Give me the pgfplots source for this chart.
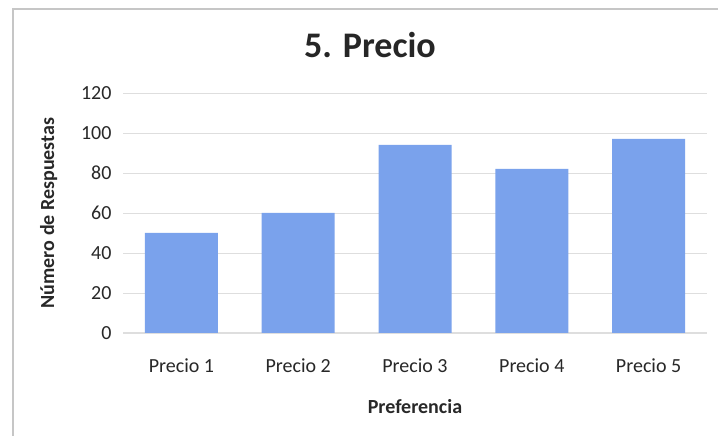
\documentclass[border=0pt]{standalone}
\usepackage{pgfplots}
\pgfplotsset{compat=1.18}
\usepackage{fontspec}
\setmainfont{Carlito}
\definecolor{barblue}{RGB}{122,162,236}
\definecolor{gridgray}{RGB}{222,222,222}
\definecolor{txt}{RGB}{40,40,40}
\begin{document}
\begin{tikzpicture}[x=1pt,y=1pt]
\path[use as bounding box, fill=white] (0,0) rectangle (718,436);
\draw[gray!45, line width=1.5pt] (13,0) -- (13,427) -- (718,427);
\node[font=\fontsize{36}{40}\selectfont\bfseries, text=black!85] at (370,391) {5. Precio};
\begin{axis}[
  at={(123pt,103pt)}, anchor=south west,
  width=584pt, height=240pt, scale only axis,
  ybar, bar width=73pt,
  xmin=-0.5, xmax=4.5, ymin=0, ymax=120,
  ytick={0,20,...,120},
  xtick=data,
  xticklabels={Precio 1,Precio 2,Precio 3,Precio 4,Precio 5},
  axis lines*=left,
  x axis line style={draw=gridgray, line width=1pt},
  y axis line style={draw=none},
  major tick length=0pt,
  ymajorgrids, grid style={gridgray, line width=0.8pt},
  tick label style={font=\fontsize{20}{22}\selectfont, text=txt},
  /pgf/number format/assume math mode=true,
  yticklabel style={xshift=-8pt},
  xticklabel style={yshift=-22pt},
  xlabel={\textbf{Preferencia}},
  ylabel={\textbf{Número de Respuestas}},
  label style={font=\fontsize{20}{22}\selectfont, text=txt},
  xlabel style={yshift=-20pt},
  ylabel style={yshift=17pt},
]
\addplot[fill=barblue, draw=none] coordinates {(0,50) (1,60) (2,94) (3,82) (4,97)};
\end{axis}
\end{tikzpicture}
\end{document}
